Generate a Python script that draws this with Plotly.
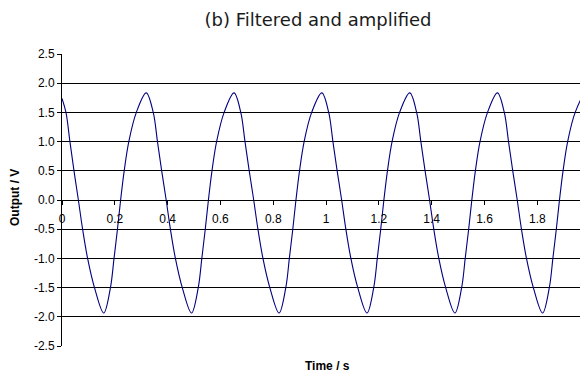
import plotly.graph_objects as go

# Time (s) and output (V)
time_s = [
    0.000, 0.015, 0.030, 0.0455, 0.062, 0.078, 0.097, 0.123, 0.158, 0.1835, 0.197, 0.210, 0.222, 0.2355, 0.253, 0.2815,
    0.319, 0.3455, 0.3615, 0.3775, 0.3945, 0.4105, 0.4295, 0.4555, 0.4905, 0.516, 0.5295, 0.5425, 0.5545, 0.568, 0.5855, 0.614,
    0.6515, 0.677, 0.693, 0.709, 0.726, 0.742, 0.761, 0.787, 0.822, 0.8475, 0.861, 0.874, 0.886, 0.8995, 0.917, 0.9455,
    0.984, 1.010, 1.026, 1.042, 1.059, 1.075, 1.094, 1.120, 1.155, 1.1805, 1.194, 1.207, 1.219, 1.2325, 1.250, 1.2785,
    1.317, 1.343, 1.359, 1.375, 1.392, 1.408, 1.427, 1.453, 1.488, 1.5135, 1.527, 1.540, 1.552, 1.5655, 1.583, 1.6115,
    1.649, 1.675, 1.691, 1.707, 1.724, 1.740, 1.759, 1.785, 1.820, 1.8455, 1.859, 1.872, 1.884, 1.8975, 1.915, 1.9435,
    1.983, 2.000,
]
output_v = [
    1.74, 1.5, 1.0, 0.5, 0.0, -0.5, -1.0, -1.5, -1.935, -1.5, -1.0, -0.5, 0.0, 0.5, 1.0, 1.5,
    1.835, 1.5, 1.0, 0.5, 0.0, -0.5, -1.0, -1.5, -1.935, -1.5, -1.0, -0.5, 0.0, 0.5, 1.0, 1.5,
    1.835, 1.5, 1.0, 0.5, 0.0, -0.5, -1.0, -1.5, -1.935, -1.5, -1.0, -0.5, 0.0, 0.5, 1.0, 1.5,
    1.835, 1.5, 1.0, 0.5, 0.0, -0.5, -1.0, -1.5, -1.935, -1.5, -1.0, -0.5, 0.0, 0.5, 1.0, 1.5,
    1.835, 1.5, 1.0, 0.5, 0.0, -0.5, -1.0, -1.5, -1.935, -1.5, -1.0, -0.5, 0.0, 0.5, 1.0, 1.5,
    1.835, 1.5, 1.0, 0.5, 0.0, -0.5, -1.0, -1.5, -1.935, -1.5, -1.0, -0.5, 0.0, 0.5, 1.0, 1.5,
    1.835, 1.72,
]

x_ticks = [0, 0.2, 0.4, 0.6, 0.8, 1, 1.2, 1.4, 1.6, 1.8]
x_tick_labels = ["0", "0.2", "0.4", "0.6", "0.8", "1", "1.2", "1.4", "1.6", "1.8"]
x_last_tick = 2
x_last_label = "2"
y_ticks = [-2.5, -2.0, -1.5, -1.0, -0.5, 0.0, 0.5, 1.0, 1.5, 2.0, 2.5]
y_tick_labels = ["-2.5", "-2.0", "-1.5", "-1.0", "-0.5", "0.0", "0.5", "1.0", "1.5", "2.0", "2.5"]

title_text = "(b) Filtered and amplified"
x_title = "Time / s"
y_title = "Output / V"

# The page body adds an 8px offset; size the figure so the drawing lands where the reference has it.
PAGE = 8
W, H = 588 - PAGE, 374 - PAGE
L, T = 62 - PAGE, 54 - PAGE
PLOT_W, PLOT_H = 526, 292

axis_font = dict(family="Liberation Sans, Arial, sans-serif", size=12, color="#000000")

fig = go.Figure()
fig.add_trace(go.Scatter(
    x=time_s, y=output_v, mode="lines",
    line=dict(color="#000080", width=1.1, shape="spline", smoothing=1.0),
    hoverinfo="skip", showlegend=False,
))

fig.update_layout(
    width=W, height=H,
    margin=dict(l=L, r=W - L - PLOT_W, t=T, b=H - T - PLOT_H),
    paper_bgcolor="#ffffff", plot_bgcolor="#ffffff",
    showlegend=False,
    xaxis=dict(
        range=[0, 1.992], tickvals=x_ticks, ticktext=x_tick_labels,
        showgrid=False, zeroline=False,
        showline=True, linecolor="#000000", linewidth=1,
        anchor="free", position=0.5,
        ticks="outside", ticklen=4, tickcolor="#000000", tickwidth=1,
        tickfont=axis_font, ticklabelstandoff=4,
        automargin=False,
    ),
    yaxis=dict(
        range=[-2.5, 2.5], tickvals=y_ticks, ticktext=y_tick_labels,
        showgrid=True, gridcolor="#000000", gridwidth=1,
        zeroline=False,
        showline=True, linecolor="#000000", linewidth=1,
        ticks="outside", ticklen=4, tickcolor="#000000", tickwidth=1,
        tickfont=axis_font, automargin=False,
    ),
    title=dict(
        text=title_text, xref="container", x=(318 - PAGE) / W, xanchor="center",
        yref="container", y=1 - (20 - PAGE) / H, yanchor="middle",
        font=dict(family="DejaVu Sans, Verdana, sans-serif", size=18, color="#1a1a1a"),
    ),
    annotations=[
        dict(text=f"<b>{x_title}</b>", xref="paper", yref="paper",
             x=(327 - 62) / PLOT_W, y=-20 / PLOT_H, xanchor="center", yanchor="middle",
             showarrow=False, font=axis_font),
        dict(text=f"<b>{y_title}</b>", xref="paper", yref="paper",
             x=(15 - 62) / PLOT_W, y=(346 - 198) / PLOT_H, xanchor="center", yanchor="middle",
             textangle=-90, showarrow=False, font=axis_font),
        dict(text=x_last_label, xref="x", yref="y",
             x=x_last_tick, y=0, yshift=-17, xanchor="center", yanchor="middle",
             showarrow=False, font=axis_font),
    ],
)

fig.write_html("out.html")
